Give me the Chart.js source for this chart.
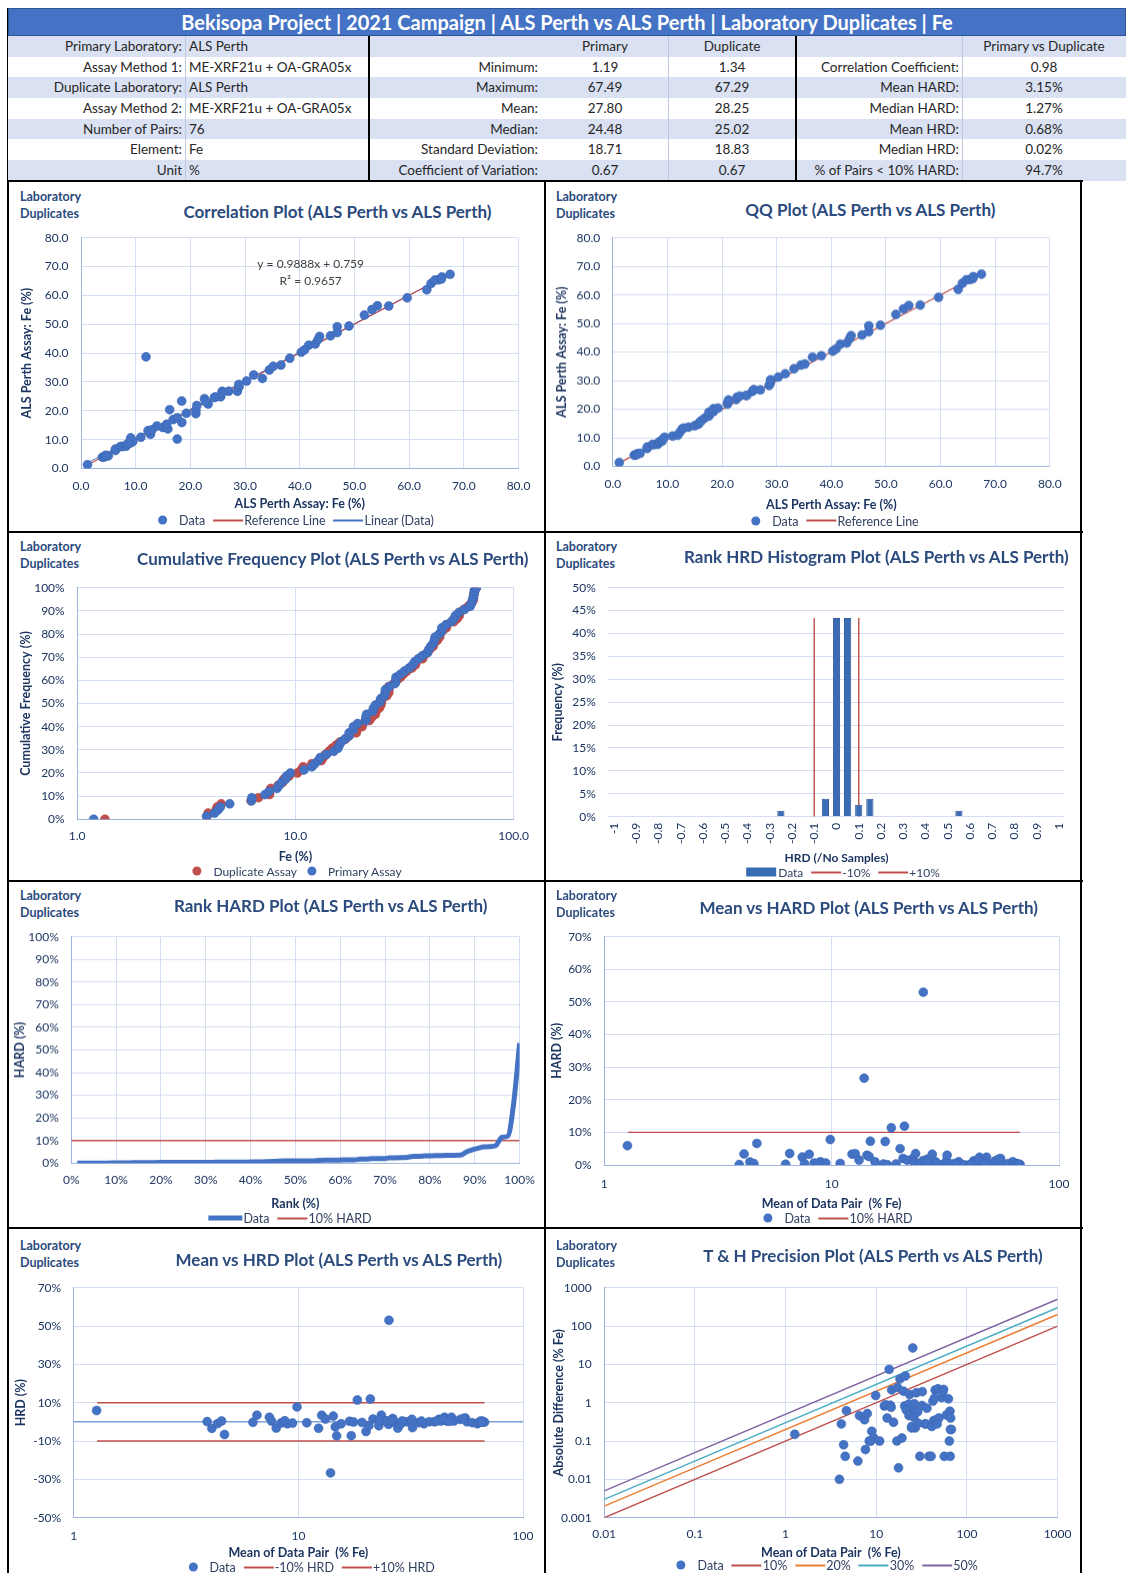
<!DOCTYPE html>
<html>
<head>
<meta charset="utf-8">
<title>Bekisopa Project | Laboratory Duplicates | Fe</title>
<script src="https://cdn.jsdelivr.net/npm/chart.js@4.4.1/dist/chart.umd.min.js"></script>
<style>
  html, body { margin: 0; padding: 0; background: #fff; }
  body { width: 1128px; height: 1573px; position: relative; overflow: hidden;
         font-family: Lato, "Open Sans", sans-serif; }
  .cell { position: absolute; box-sizing: border-box; font-size: 13.5px; color: #262626;
          white-space: nowrap; overflow: hidden; padding: 0 3px; }
  .hbar { position: absolute; left: 8px; top: 8px; width: 1118px; height: 28px; background: #4472C4;
          color: #fff; font-weight: bold; font-size: 20px; text-align: center; line-height: 27px;
          border: 1px solid #2F5597; box-sizing: border-box; }
  .rule { position: absolute; background: #000; }
  .lab { position: absolute; font-size: 12.5px; font-weight: bold; color: #2B4A7D; line-height: 17px; }
  .ttl { position: absolute; font-size: 17px; font-weight: bold; color: #2B4A7D; white-space: nowrap;
         transform: translate(-50%, -50%); }
  .leg { position: absolute; transform: translate(-50%, -50%); font-size: 12.5px; color: #2F3F5F;
         white-space: nowrap; display: flex; align-items: center; }
  .leg .dot { width: 9px; height: 9px; border-radius: 50%; margin: 0 12px 0 10px; }
  .leg .ln { width: 30px; height: 2px; margin: 0 1px 0 8px; }
  .leg .thick { width: 34px; height: 5px; margin: 0 1px 0 8px; }
  .leg .bar { width: 30px; height: 9px; margin: 0 2px 0 8px; }
  canvas { position: absolute; }
</style>
</head>
<body>
<div class="hbar">Bekisopa Project | 2021 Campaign | ALS Perth vs ALS Perth | Laboratory Duplicates | Fe</div>
<script>
const primary = [1.19, 3.92, 4.26, 4.41, 5.00, 6.29, 6.31, 7.25, 7.57, 8.23,
  8.43, 9.02, 9.48, 9.09, 12.71, 12.26, 17.60, 13.87, 14.98, 15.88,
  16.85, 18.44, 17.61, 16.21, 21.00, 21.01, 18.41, 23.26, 22.58, 11.89,
  24.40, 25.53, 25.83, 27.01, 28.61, 28.89, 30.28, 31.58, 33.17, 34.44,
  36.56, 38.18, 40.28, 41.65, 42.83, 43.63, 45.62, 46.85, 49.00, 51.82,
  54.19, 56.28, 59.64, 63.23, 65.38, 67.49,
  4.53, 8.65, 10.95, 13.00, 15.66, 19.26, 21.18, 22.77, 24.56, 25.79,
  28.86, 35.16, 40.88, 43.34, 46.86, 53.20, 64.00, 64.70, 66.00, 65.90];
const duplicate = [1.34, 3.93, 3.98, 4.33, 4.38, 6.26, 6.77, 7.61, 7.63, 7.71,
  8.33, 8.84, 9.36, 10.63, 11.89, 13.14, 10.20, 14.73, 14.22, 13.72,
  16.95, 15.96, 17.59, 20.39, 19.00, 20.19, 23.39, 22.34, 24.22, 38.71,
  24.62, 24.87, 26.77, 26.79, 26.79, 28.31, 30.32, 32.42, 31.23, 34.16,
  35.84, 38.22, 40.32, 42.75, 43.17, 45.77, 45.98, 49.15, 49.40, 53.18,
  56.41, 56.32, 59.16, 61.97, 65.42, 67.29,
  4.57, 8.75, 10.85, 13.40, 15.35, 19.14, 21.82, 23.23, 24.80, 26.21,
  29.15, 35.44, 41.12, 44.66, 47.14, 55.10, 64.10, 65.30, 66.40, 65.70];

// correlation plot extras
const refLineX = [1.19, 67.49];
const trendSlope = 0.9888, trendIntercept = 0.759;
const trendX = [1.19, 67.49];
const trendText = ['y = 0.9888x + 0.759', 'R\u00b2 = 0.9657'];
const trendTextAt = [[42, 71], [42, 65]];

// rank HRD histogram (read directly)
const hrdBins = ['-1','-0.95','-0.9','-0.85','-0.8','-0.75','-0.7','-0.65','-0.6','-0.55','-0.5',
  '-0.45','-0.4','-0.35','-0.3','-0.25','-0.2','-0.15','-0.1','-0.05','0','0.05','0.1','0.15',
  '0.2','0.25','0.3','0.35','0.4','0.45','0.5','0.55','0.6','0.65','0.7','0.75','0.8','0.85',
  '0.9','0.95','1'];
const hrdFreq = [0,0,0,0,0,0,0,0,0,0, 0,0,0,0,0,1.3,0,0,0,3.9,
  43.4,43.4,2.6,3.9,0,0,0,0,0,0, 0,1.3,0,0,0,0,0,0,0,0, 0];
const hrdLimitBins = ['-0.1', '0.1'];
const hrdLimitTop = 43.4;

// limit lines
const hardLimit = 10;
const rankLimitX = [0, 100];
const meanLimitX = [1.27, 67.4];
const thX = [0.01, 1000];
const thLevels = [10, 20, 30, 50];
const thNames = ['10%', '20%', '30%', '50%'];

// tick values
const meanTicks = [1, 10, 100];
const cumTicks = [1, 10, 100];
const thTicksX = [0.01, 0.1, 1, 10, 100, 1000];
const thTicksY = [0.001, 0.01, 0.1, 1, 10, 100, 1000];

// summary table text
const summaryRows = [
  ['Primary Laboratory:', 'ALS Perth', '', 'Primary', 'Duplicate', '', 'Primary vs Duplicate'],
  ['Assay Method 1:', 'ME-XRF21u + OA-GRA05x', 'Minimum:', '1.19', '1.34', 'Correlation Coefficient:', '0.98'],
  ['Duplicate Laboratory:', 'ALS Perth', 'Maximum:', '67.49', '67.29', 'Mean HARD:', '3.15%'],
  ['Assay Method 2:', 'ME-XRF21u + OA-GRA05x', 'Mean:', '27.80', '28.25', 'Median HARD:', '1.27%'],
  ['Number of Pairs:', '76', 'Median:', '24.48', '25.02', 'Mean HRD:', '0.68%'],
  ['Element:', 'Fe', 'Standard Deviation:', '18.71', '18.83', 'Median HRD:', '0.02%'],
  ['Unit', '%', 'Coefficient of Variation:', '0.67', '0.67', '% of Pairs < 10% HARD:', '94.7%']
];

// ---------- derived per-pair values ----------
const N = primary.length;
const pairMean = primary.map((p, i) => (p + duplicate[i]) / 2);
const pairHRD = primary.map((p, i) => (duplicate[i] - p) / (duplicate[i] + p) * 100);
const pairHARD = pairHRD.map(Math.abs);
const pairDiff = primary.map((p, i) => Math.abs(duplicate[i] - p));
const byNum = (a, b) => a - b;

// ---------- colours ----------
const ink = '#1C3560';
const gridCol = '#D3DEF1';
const borderCol = '#9DB4DE';
const blue = '#4472C4';
const blueEdge = '#3A64AE';
const red = '#C0504D';
const orange = '#ED7D31';
const teal = '#4BACC6';
const purple = '#8064A2';

Chart.defaults.font.family = 'Lato, "Open Sans", sans-serif';
Chart.defaults.color = ink;

// ---------- summary table ----------
const colX = [8, 186, 369, 542, 669, 796, 963, 1126];
const colAlign = ['right', 'left', 'right', 'center', 'center', 'right', 'center'];
const rowH = 20.66;
summaryRows.forEach((row, r) => {
  row.forEach((txt, c) => {
    const d = document.createElement('div');
    d.className = 'cell';
    const top = 36 + r * rowH;
    d.style.cssText = 'left:' + colX[c] + 'px;top:' + top + 'px;width:' + (colX[c + 1] - colX[c]) +
      'px;height:' + (rowH + 0.5) + 'px;line-height:' + rowH + 'px;text-align:' + colAlign[c] +
      ';background:' + (r % 2 === 0 ? '#D9E1F2' : '#fff') +
      ';border-right:1px solid ' + ((c === 0 || c === 3 || c === 5) ? '#BCC8DF' : 'transparent');
    d.textContent = txt;
    document.body.appendChild(d);
  });
});
function rule(x, y, w, h) {
  const d = document.createElement('div');
  d.className = 'rule';
  d.style.cssText = 'left:' + x + 'px;top:' + y + 'px;width:' + w + 'px;height:' + h + 'px';
  document.body.appendChild(d);
}
rule(368, 36, 2, 145);
rule(795, 36, 2, 145);
rule(7, 8, 1, 173);

// ---------- panel frame ----------
rule(7, 180, 1076, 2);
rule(7, 531, 1076, 2);
rule(7, 880, 1076, 2);
rule(7, 1227, 1076, 2);
rule(7, 180, 2, 1393);
rule(544, 180, 2, 1393);
rule(1080, 180, 2, 1393);

// ---------- helpers ----------
function scale(o) {
  const s = {
    type: o.type || 'linear',
    min: o.min, max: o.max,
    offset: o.offset,
    title: {display: true, text: o.title, color: ink, font: {size: o.titleSize || 12.5, weight: 'bold'},
            padding: {top: 2, bottom: 2}},
    grid: {display: o.grid !== false, color: gridCol, drawTicks: false, offset: false},
    border: {display: o.border !== false, color: borderCol, width: 1},
    ticks: {color: ink, font: {size: 12}, padding: o.pad, autoSkip: false,
            maxRotation: o.rot || 0, minRotation: o.rot || 0, stepSize: o.step, callback: o.fmt},
    afterFit: sc => { if (sc.isHorizontal()) sc.height = o.size; else sc.width = o.size; }
  };
  if (o.values) s.afterBuildTicks = sc => { sc.ticks = o.values.map(v => ({value: v})); };
  return s;
}

function panelText(pn, title, titleX, titleY, labY) {
  const lab = document.createElement('div');
  lab.className = 'lab';
  lab.style.left = (pn.x + pn.labX) + 'px';
  lab.style.top = (pn.y + labY) + 'px';
  lab.innerHTML = 'Laboratory<br>Duplicates';
  document.body.appendChild(lab);
  const t = document.createElement('div');
  t.className = 'ttl';
  t.style.left = (pn.x + titleX) + 'px';
  t.style.top = (pn.y + titleY) + 'px';
  t.textContent = title;
  document.body.appendChild(t);
}

function legend(pn, cx, cy, items, size) {
  const d = document.createElement('div');
  d.className = 'leg';
  d.style.left = (pn.x + cx) + 'px';
  d.style.top = (pn.y + cy) + 'px';
  if (size) d.style.fontSize = size + 'px';
  items.forEach(it => {
    const m = document.createElement('span');
    m.className = it[0];
    m.style.background = it[1];
    d.appendChild(m);
    const s = document.createElement('span');
    s.textContent = it[2];
    d.appendChild(s);
  });
  document.body.appendChild(d);
}

function makeChart(pn, cfg) {
  const cv = document.createElement('canvas');
  const h = pn.cb - pn.ct;
  cv.width = pn.w; cv.height = h;
  cv.style.left = pn.x + 'px';
  cv.style.top = (pn.y + pn.ct) + 'px';
  cv.style.width = pn.w + 'px';
  cv.style.height = h + 'px';
  document.body.appendChild(cv);
  cfg.options = Object.assign({
    responsive: false, animation: false,
    layout: {padding: {left: pn.padL, top: pn.T - pn.ct, right: pn.w - pn.R, bottom: 0}},
    plugins: {legend: {display: false}, tooltip: {enabled: false}}
  }, cfg.options);
  return new Chart(cv, cfg);
}

const dot = (color, edge) => ({backgroundColor: color, borderColor: edge || color, borderWidth: 0.5,
  pointRadius: 4.5, pointHoverRadius: 4.5, showLine: false});
const line = (color, w) => ({borderColor: color, backgroundColor: color, borderWidth: w || 1.4,
  pointRadius: 0, showLine: true, fill: false});
const pct = v => v + '%';

// panel geometry (panel-local pixels)
const P1 = {x: 8,   y: 182,  w: 537, labX: 12, ct: 36, padL: 9,  L: 73,   R: 510.5, T: 51.5, B: 286.5, cb: 331};
const P2 = {x: 545, y: 182,  w: 536, labX: 11, ct: 36, padL: 7,  L: 67.8, R: 504.8, T: 49.7, B: 284,   cb: 331.5};
const P3 = {x: 8,   y: 532,  w: 537, labX: 12, ct: 36, padL: 8,  L: 69.2, R: 505.7, T: 51.3, B: 287.3, cb: 334};
const P4 = {x: 545, y: 532,  w: 536, labX: 11, ct: 36, padL: 3,  L: 63.4, R: 519.6, T: 48,   B: 284.7, cb: 335};
const P5 = {x: 8,   y: 881,  w: 537, labX: 12, ct: 36, padL: 2,  L: 63.3, R: 511.6, T: 50.3, B: 282,   cb: 331.7};
const P6 = {x: 545, y: 881,  w: 536, labX: 11, ct: 36, padL: 2,  L: 59.2, R: 516.5, T: 51,   B: 284.3, cb: 332.3};
const P7 = {x: 8,   y: 1228, w: 537, labX: 12, ct: 40, padL: 3,  L: 65.7, R: 517.5, T: 53.3, B: 290,   cb: 334.3};
const P8 = {x: 545, y: 1228, w: 536, labX: 11, ct: 40, padL: 4,  L: 59.2, R: 513.1, T: 52.3, B: 290,   cb: 334.3};
const xs = pn => pn.cb - pn.B;
const ys = pn => pn.L - pn.padL;

// ---------- 1. correlation plot ----------
const trendLabelPlugin = {
  id: 'trendLabel',
  afterDatasetsDraw(chart) {
    const {ctx, scales} = chart;
    ctx.save();
    ctx.font = '12px Lato';
    ctx.fillStyle = '#404040';
    ctx.textAlign = 'center';
    ctx.textBaseline = 'middle';
    trendText.forEach((t, i) => {
      ctx.fillText(t, scales.x.getPixelForValue(trendTextAt[i][0]), scales.y.getPixelForValue(trendTextAt[i][1]));
    });
    ctx.restore();
  }
};
panelText(P1, 'Correlation Plot (ALS Perth vs ALS Perth)', 329.5, 29, 6);
makeChart(P1, {
  type: 'scatter',
  data: {datasets: [
    Object.assign({label: 'Data', data: primary.map((v, i) => ({x: v, y: duplicate[i]}))}, dot(blue, blueEdge)),
    Object.assign({label: 'Reference Line', data: refLineX.map(v => ({x: v, y: v}))}, line(red, 1.2)),
    Object.assign({label: 'Linear (Data)', data: trendX.map(v => ({x: v, y: trendSlope * v + trendIntercept}))}, line(blue, 1))
  ]},
  options: {scales: {
    x: scale({min: 0, max: 80, step: 10, fmt: v => v.toFixed(1), title: 'ALS Perth Assay: Fe (%)', pad: 10, size: xs(P1)}),
    y: scale({min: 0, max: 80, step: 10, fmt: v => v.toFixed(1), title: 'ALS Perth Assay: Fe (%)', pad: 12.5, size: ys(P1)})
  }},
  plugins: [trendLabelPlugin]
});
legend(P1, 283, 338, [['dot', blue, 'Data'], ['ln', red, 'Reference Line'], ['ln', blue, 'Linear (Data)']]);

// ---------- 2. QQ plot ----------
const sortedP = primary.slice().sort(byNum);
const sortedD = duplicate.slice().sort(byNum);
panelText(P2, 'QQ Plot (ALS Perth vs ALS Perth)', 325.4, 27.3, 6);
makeChart(P2, {
  type: 'scatter',
  data: {datasets: [
    Object.assign({label: 'Data', data: sortedP.map((v, i) => ({x: v, y: sortedD[i]}))}, dot(blue, blueEdge)),
    Object.assign({label: 'Reference Line', data: refLineX.map(v => ({x: v, y: v}))}, line(red, 1.2))
  ]},
  options: {scales: {
    x: scale({min: 0, max: 80, step: 10, fmt: v => v.toFixed(1), title: 'ALS Perth Assay: Fe (%)', pad: 10, size: xs(P2)}),
    y: scale({min: 0, max: 80, step: 10, fmt: v => v.toFixed(1), title: 'ALS Perth Assay: Fe (%)', pad: 12.5, size: ys(P2)})
  }}
});
legend(P2, 285, 338.7, [['dot', blue, 'Data'], ['ln', red, 'Reference Line']]);

// ---------- 3. cumulative frequency ----------
panelText(P3, 'Cumulative Frequency Plot (ALS Perth vs ALS Perth)', 324.8, 25.7, 6);
makeChart(P3, {
  type: 'scatter',
  data: {datasets: [
    Object.assign({label: 'Primary Assay', data: sortedP.map((v, i) => ({x: v, y: i / (N - 1) * 100}))}, dot(blue, blueEdge)),
    Object.assign({label: 'Duplicate Assay', data: sortedD.map((v, i) => ({x: v, y: i / (N - 1) * 100}))}, dot(red, '#B0403D'))
  ]},
  options: {scales: {
    x: scale({type: 'logarithmic', min: 1, max: 100, values: cumTicks, fmt: v => Number(v).toFixed(1), title: 'Fe (%)', pad: 9.5, size: xs(P3)}),
    y: scale({min: 0, max: 100, step: 10, fmt: pct, title: 'Cumulative Frequency (%)', pad: 12.5, size: ys(P3)})
  }}
});
legend(P3, 284, 339, [['dot', red, 'Duplicate Assay'], ['dot', blue, 'Primary Assay']], 12);

// ---------- 4. rank HRD histogram ----------
panelText(P4, 'Rank HRD Histogram Plot (ALS Perth vs ALS Perth)', 331.4, 24, 6);
makeChart(P4, {
  type: 'bar',
  data: {labels: hrdBins, datasets: [
    {type: 'bar', label: 'Data', data: hrdFreq, backgroundColor: '#3A6CB5', borderColor: '#2F5A9C',
     borderWidth: 1, barPercentage: 0.9, categoryPercentage: 0.72},
    Object.assign({type: 'line', label: '-10%', data: [{x: hrdLimitBins[0], y: 0}, {x: hrdLimitBins[0], y: hrdLimitTop}]}, line(red, 1.4)),
    Object.assign({type: 'line', label: '+10%', data: [{x: hrdLimitBins[1], y: 0}, {x: hrdLimitBins[1], y: hrdLimitTop}]}, line(red, 1.4))
  ]},
  options: {scales: {
    x: scale({type: 'category', offset: true, grid: false, border: false, rot: 90, titleSize: 12,
              fmt: (v, i) => (i % 2 === 0 ? hrdBins[i] : ''), title: 'HRD (/No Samples)', pad: 6, size: xs(P4)}),
    y: scale({min: 0, max: 50, step: 5, fmt: pct, border: false, title: 'Frequency (%)', pad: 12.5, size: ys(P4)})
  }}
});
legend(P4, 294, 340, [['bar', '#3A6CB5', 'Data'], ['ln', red, '-10%'], ['ln', red, '+10%']], 12);

// ---------- 5. rank HARD ----------
const sortedHARD = pairHARD.slice().sort(byNum);
panelText(P5, 'Rank HARD Plot (ALS Perth vs ALS Perth)', 322.7, 23.7, 6);
makeChart(P5, {
  type: 'scatter',
  data: {datasets: [
    Object.assign({label: 'Data', data: sortedHARD.map((v, i) => ({x: (i + 1) / N * 100, y: v})),
                   cubicInterpolationMode: 'monotone'}, line(blue, 5)),
    Object.assign({label: '10% HARD', data: rankLimitX.map(v => ({x: v, y: hardLimit}))}, line(red, 1.4))
  ]},
  options: {scales: {
    x: scale({min: 0, max: 100, step: 10, fmt: pct, title: 'Rank (%)', pad: 9.5, size: xs(P5)}),
    y: scale({min: 0, max: 100, step: 10, fmt: pct, title: 'HARD (%)', pad: 12.5, size: ys(P5)})
  }}
});
legend(P5, 278, 337, [['thick', blue, 'Data'], ['ln', red, '10% HARD']]);

// ---------- 6. mean vs HARD ----------
panelText(P6, 'Mean vs HARD Plot (ALS Perth vs ALS Perth)', 323.7, 26.3, 6);
makeChart(P6, {
  type: 'scatter',
  data: {datasets: [
    Object.assign({label: 'Data', data: pairMean.map((m, i) => ({x: m, y: pairHARD[i]}))}, dot(blue, blueEdge)),
    Object.assign({label: '10% HARD', data: meanLimitX.map(v => ({x: v, y: hardLimit}))}, line(red, 1.4))
  ]},
  options: {scales: {
    x: scale({type: 'logarithmic', min: 1, max: 100, values: meanTicks, fmt: v => String(v), title: 'Mean of Data Pair  (% Fe)', pad: 11.5, size: xs(P6)}),
    y: scale({min: 0, max: 70, step: 10, fmt: pct, title: 'HARD (%)', pad: 12.5, size: ys(P6)})
  }}
});
legend(P6, 288, 337, [['dot', blue, 'Data'], ['ln', red, '10% HARD']]);

// ---------- 7. mean vs HRD ----------
const zeroLinePlugin = {
  id: 'zeroLine',
  beforeDatasetsDraw(chart) {
    const {ctx, chartArea, scales} = chart;
    const y = scales.y.getPixelForValue(0);
    ctx.save();
    ctx.strokeStyle = '#7FA0D8';
    ctx.lineWidth = 1.5;
    ctx.beginPath();
    ctx.moveTo(chartArea.left, y);
    ctx.lineTo(chartArea.right, y);
    ctx.stroke();
    ctx.restore();
  }
};
panelText(P7, 'Mean vs HRD Plot (ALS Perth vs ALS Perth)', 330.9, 31.3, 9);
makeChart(P7, {
  type: 'scatter',
  data: {datasets: [
    Object.assign({label: 'Data', data: pairMean.map((m, i) => ({x: m, y: pairHRD[i]}))}, dot(blue, blueEdge)),
    Object.assign({label: '-10% HRD', data: meanLimitX.map(v => ({x: v, y: -hardLimit}))}, line(red, 1.4)),
    Object.assign({label: '+10% HRD', data: meanLimitX.map(v => ({x: v, y: hardLimit}))}, line(red, 1.4))
  ]},
  options: {scales: {
    x: scale({type: 'logarithmic', min: 1, max: 100, values: meanTicks, fmt: v => String(v), title: 'Mean of Data Pair  (% Fe)', pad: 11.5, size: xs(P7)}),
    y: scale({min: -50, max: 70, step: 20, fmt: pct, title: 'HRD (%)', pad: 12.5, size: ys(P7)})
  }},
  plugins: [zeroLinePlugin]
});
legend(P7, 298.7, 339, [['dot', blue, 'Data'], ['ln', red, '-10% HRD'], ['ln', red, '+10% HRD']]);

// ---------- 8. Thompson & Howarth ----------
const thColours = [red, orange, teal, purple];
panelText(P8, 'T & H Precision Plot (ALS Perth vs ALS Perth)', 328, 27.3, 9);
makeChart(P8, {
  type: 'scatter',
  data: {datasets: [
    Object.assign({label: 'Data', data: pairMean.map((m, i) => ({x: m, y: pairDiff[i]}))}, dot(blue, blueEdge))
  ].concat(thLevels.map((lv, k) => Object.assign({label: thNames[k],
      data: thX.map(v => ({x: v, y: v * lv / 100}))}, line(thColours[k], 1.4))))},
  options: {scales: {
    x: scale({type: 'logarithmic', min: 0.01, max: 1000, values: thTicksX, fmt: v => String(v), title: 'Mean of Data Pair  (% Fe)', pad: 9.5, size: xs(P8)}),
    y: scale({type: 'logarithmic', min: 0.001, max: 1000, values: thTicksY, fmt: v => String(v), title: 'Absolute Difference (% Fe)', pad: 12.5, size: ys(P8)})
  }}
});
legend(P8, 277.2, 337.3, [['dot', blue, 'Data'], ['ln', red, '10%'], ['ln', orange, '20%'], ['ln', teal, '30%'], ['ln', purple, '50%']]);
</script>
</body>
</html>
